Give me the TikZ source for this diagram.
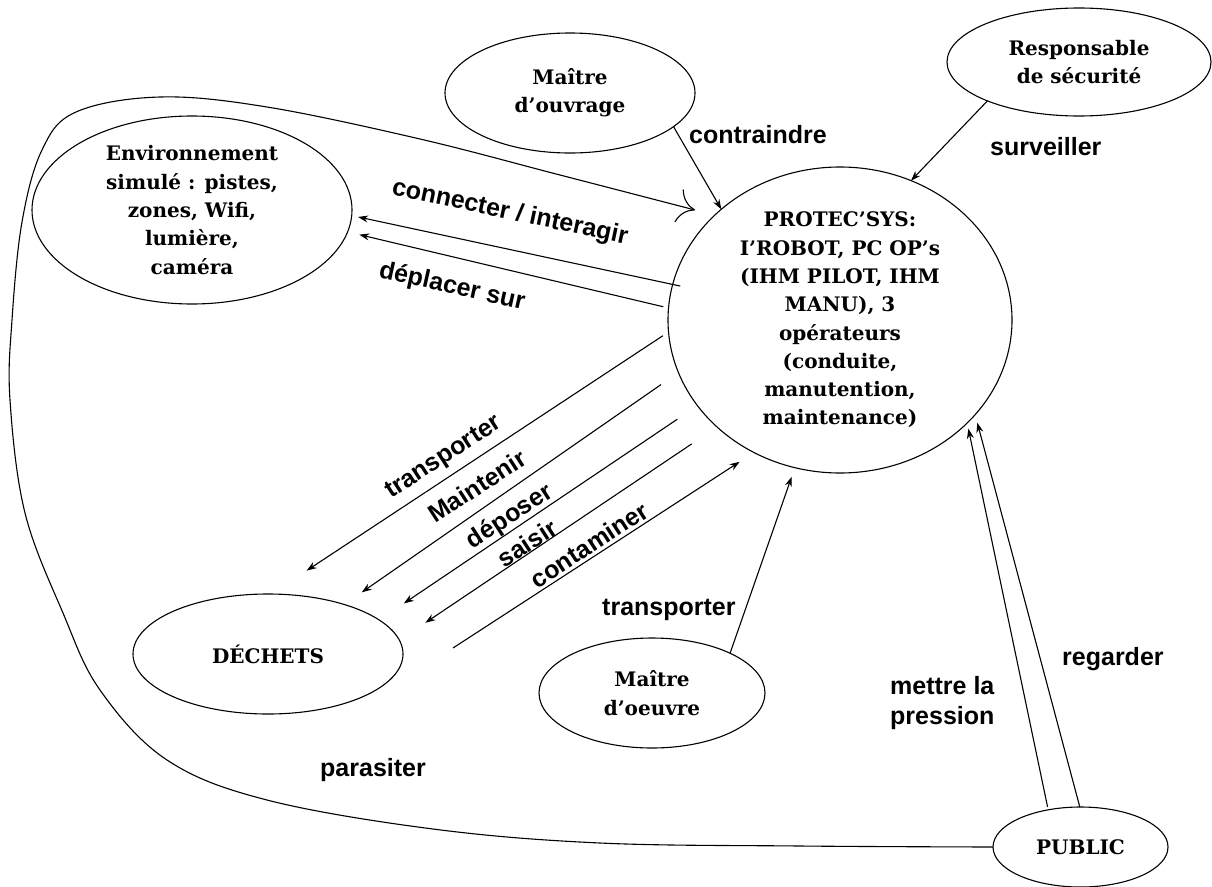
\documentclass[tikz,border=0pt]{standalone}
\usepackage{fontspec}
\setmainfont{DejaVu Serif}
\newfontfamily\boxfont{DejaVu Serif}
\newfontfamily\verbfont{Liberation Sans}
\usetikzlibrary{shapes.geometric,arrows.meta}

\begin{document}
\begin{tikzpicture}[x=1pt,y=-1pt,
  actor/.style={ellipse,draw,line width=1.1pt,inner sep=-15pt,outer sep=0pt,align=center,
    font=\boxfont\bfseries\fontsize{20}{28.3}\selectfont},
  verb/.style={font=\verbfont\bfseries\fontsize{25}{30}\selectfont,inner sep=0pt},
  link/.style={line width=1.1pt,-{Stealth[length=10pt,width=7pt]}},
  plain/.style={line width=1.1pt}]
\useasboundingbox (0,0) rectangle (1212,886);

% actors
\node[actor,minimum width=344pt,minimum height=306pt] (sys) at (840,320)
  {PROTEC’SYS:\\I’ROBOT, PC OP’s\\(IHM PILOT, IHM\\MANU), 3\\opérateurs\\(conduite,\\manutention,\\maintenance)};
\node[actor,minimum width=320pt,minimum height=188pt] (env) at (192,210)
  {Environnement\\simulé : pistes,\\zones, Wifi,\\lumière,\\caméra};
\node[actor,minimum width=250pt,minimum height=120pt] (mo) at (570,93) {Maître\\d’ouvrage};
\node[actor,minimum width=264pt,minimum height=108pt] (rs) at (1079,62) {Responsable\\de sécurité};
\node[actor,minimum width=270pt,minimum height=120pt] (dech) at (268,654) {DÉCHETS};
\node[actor,minimum width=226pt,minimum height=110pt] (moe) at (652,693) {Maître\\d’oeuvre};
\node[actor,minimum width=175pt,minimum height=80pt] (pub) at (1080.5,847) {PUBLIC};

% relations
\draw[link] (mo.-18.4) -- (sys.137.2);
\draw[link] (rs.203.1) -- (sys.63.3);
\draw[link,shorten <=-7.7pt,shorten >=6.5pt] (sys.168.3) -- (env.-2.33);
\draw[link,shorten <=5.5pt,shorten >=12pt] (sys.176.4) -- (env.-8.95);
\draw[link,shorten <=6.9pt,shorten >=42.5pt] (sys.184.7) -- (dech.87.7);
\draw[link,shorten <=21.2pt,shorten >=21.3pt] (sys.198.9) -- (dech.33.9);
\draw[link,shorten <=24.2pt,shorten >=29.6pt] (sys.211.4) -- (dech.17.4);
\draw[link,shorten <=30.5pt,shorten >=31.3pt] (sys.221.7) -- (dech.6.45);
\coordinate (contail) at (453,648);
\draw[link,shorten >=17.1pt] (contail) -- (sys.237.2);
\draw[link,shorten >=9.6pt] (moe.27.7) -- (sys.253.5);
\draw[link,shorten <=3pt,shorten >=5.8pt] (pub.131.6) -- (sys.-39.66);
\draw[link,shorten >=8.3pt] (pub.91) -- (sys.-35.2);

% long loop from the public round the left side
\coordinate (parend) at (695,210);
\draw[plain,-{Computer Modern Rightarrow[length=17pt,width=34pt]}]
  plot[smooth,tension=0.6] coordinates {(pub.west) (800,846) (600,843) (433,829) (267,800)
  (167,760) (100,690) (63,613) (25,513) (10,400) (12,320) (22,222) (42,150) (76,112)
  (160,97) (267,107) (420,139) (560,175) (parend)};

% verbs
\node[verb,anchor=base west] (lcontr) at (689,143) {contraindre};
\node[verb,anchor=base west] (lsurv) at (990,155) {surveiller};
\node[verb,rotate=-12] (lconn) at (510,213) {connecter / interagir};
\node[verb,rotate=-12.5] (ldepl) at (452,287) {déplacer sur};
\node[verb,rotate=33] (ltr1) at (444,458) {transporter};
\node[verb,rotate=33] (lmaint) at (477,486) {Maintenir};
\node[verb,rotate=33] (ldepo) at (510,517) {déposer};
\node[verb,rotate=33] (lsais) at (527,543) {saisir};
\node[verb,rotate=33] (lcont) at (589,545) {contaminer};
\node[verb,anchor=base west] (ltr2) at (602,615) {transporter};
\node[verb,anchor=west,align=left] (lpress) at (890,703) {mettre la\\pression};
\node[verb,anchor=base west] (lreg) at (1062,665) {regarder};
\node[verb,anchor=base west] (lpara) at (320,776) {parasiter};
\end{tikzpicture}
\end{document}
